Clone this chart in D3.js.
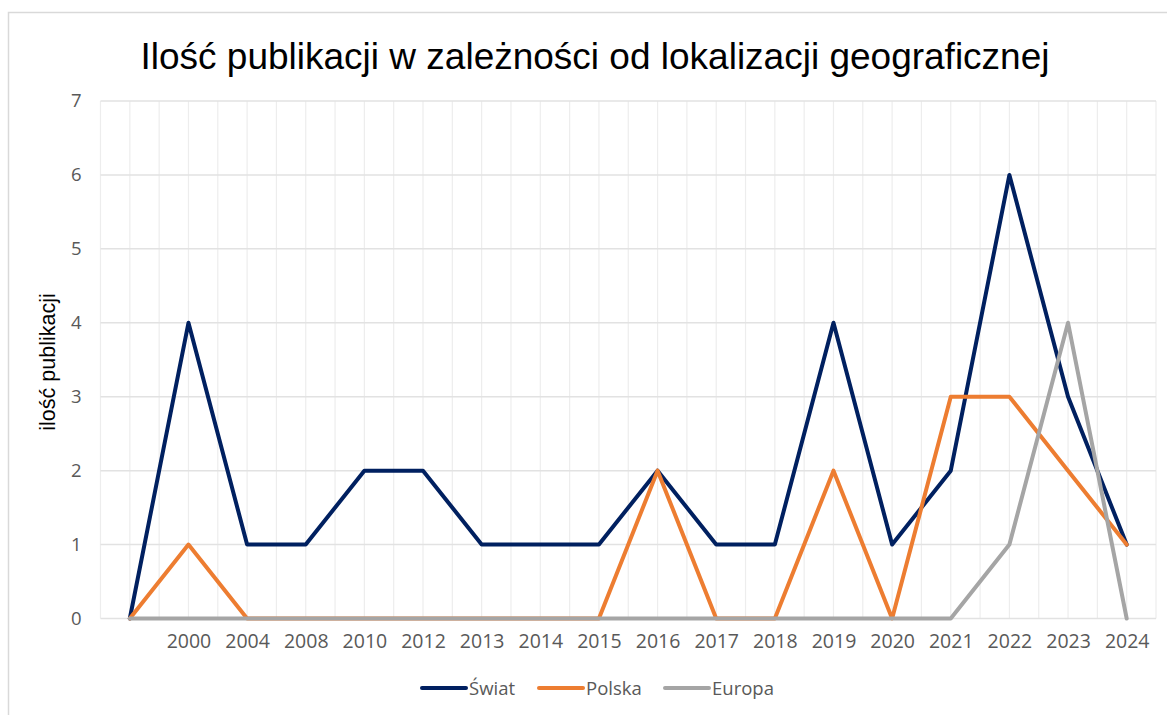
<!DOCTYPE html>
<html><head><meta charset="utf-8">
<script src="https://cdn.jsdelivr.net/npm/d3@7"></script>
<style>body{margin:0;background:#fff}svg{display:block}</style>
</head><body>
<script>
const categories = ["", "2000", "2004", "2008", "2010", "2012", "2013", "2014", "2015", "2016", "2017", "2018", "2019", "2020", "2021", "2022", "2023", "2024"];
const swiat  = [0, 4, 1, 1, 2, 2, 1, 1, 1, 2, 1, 1, 4, 1, 2, 6, 3, 1];
const polska = [0, 1, 0, 0, 0, 0, 0, 0, 0, 2, 0, 0, 2, 0, 3, 3, 2, 1];
const europa = [0, 0, 0, 0, 0, 0, 0, 0, 0, 0, 0, 0, 0, 0, 0, 1, 4, 0];
const yTicks = [0, 1, 2, 3, 4, 5, 6, 7];
const seriesNames = ["Świat", "Polska", "Europa"];
const seriesColors = ["#002060", "#ED7D31", "#A5A5A5"];
const chartTitle = "Ilość publikacji w zależności od lokalizacji geograficznej";
const yTitle = "ilość publikacji";

(function () {
const W = 1167, H = 715;
const svg = d3.select("body").append("svg").attr("width", W).attr("height", H);

svg.append("rect").attr("x", 8.5).attr("y", 12.5).attr("width", W + 10).attr("height", H + 10)
  .attr("fill", "#fff").attr("stroke", "#d9d9d9").attr("stroke-width", 1.5);

const pl = 100.5, pr = 1156, pt = 101, pb = 618.5;
const n = categories.length;
const x = d3.scaleLinear().domain([-0.5, n - 0.5]).range([pl, pr]);
const y = d3.scaleLinear().domain([0, 7]).range([pb, pt]);

const vg = d3.range(-0.5, n, 0.5);
svg.append("g").selectAll("line").data(vg).join("line")
  .attr("x1", d => x(d)).attr("x2", d => x(d)).attr("y1", pt).attr("y2", pb)
  .attr("stroke", "#ededed").attr("stroke-width", 1.2);
svg.append("g").selectAll("line").data(yTicks).join("line")
  .attr("x1", pl).attr("x2", pr).attr("y1", d => y(d)).attr("y2", d => y(d))
  .attr("stroke", "#e2e2e2").attr("stroke-width", 1.5);

const yAxis = d3.axisLeft(y).tickValues(yTicks).tickSize(0).tickPadding(19).tickFormat(d3.format("d"));
const ya = svg.append("g").attr("transform", `translate(${pl},0)`).call(yAxis);
ya.select(".domain").remove();
ya.selectAll("text").attr("font-family", "'Open Sans', sans-serif").attr("font-size", 18.5).attr("fill", "#595959");

const xAxis = d3.axisBottom(x).tickValues(d3.range(n)).tickSize(0).tickPadding(16).tickFormat(i => categories[i]);
const xa = svg.append("g").attr("transform", `translate(0,${pb})`).call(xAxis);
xa.select(".domain").remove();
xa.selectAll("text").attr("font-family", "'Open Sans', sans-serif").attr("font-size", 19.5).attr("fill", "#595959");

const allSeries = [swiat, polska, europa];
const line = d3.line().x((d, i) => x(i)).y(d => y(d));
allSeries.forEach((s, k) => {
  svg.append("path").datum(s).attr("d", line).attr("fill", "none")
    .attr("stroke", seriesColors[k]).attr("stroke-width", 4)
    .attr("stroke-linejoin", "round").attr("stroke-linecap", "round");
});

svg.append("text").attr("x", 595).attr("y", 69).attr("text-anchor", "middle")
  .attr("font-family", "'Liberation Sans', Arial, sans-serif").attr("font-size", 37).attr("fill", "#000")
  .text(chartTitle);

svg.append("text").attr("transform", "translate(55,362) rotate(-90)").attr("text-anchor", "middle")
  .attr("font-family", "'Liberation Sans', Arial, sans-serif").attr("font-size", 21.5).attr("fill", "#000")
  .text(yTitle);

const legX = [422, 539, 665];
const lg = svg.append("g");
seriesNames.forEach((name, k) => {
  lg.append("line").attr("x1", legX[k]).attr("x2", legX[k] + 44).attr("y1", 688).attr("y2", 688)
    .attr("stroke", seriesColors[k]).attr("stroke-width", 4).attr("stroke-linecap", "round");
  lg.append("text").attr("x", legX[k] + 47).attr("y", 695)
    .attr("font-family", "'Open Sans', sans-serif").attr("font-size", 18.5).attr("fill", "#595959").text(name);
});
})();
</script>
</body></html>
